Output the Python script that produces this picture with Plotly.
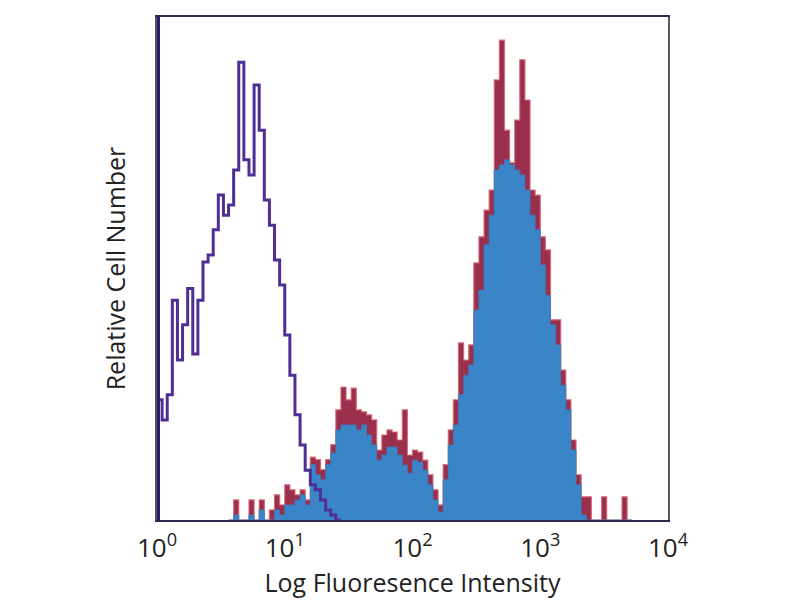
import numpy as np
import plotly.graph_objects as go

# Histogram channels: log10 bins of width 0.04 decade starting at 10^0
bin_width = 0.04

# Isotype control (purple outline), bins 0..35
iso_counts = [23.9, 19.9, 24.9, 43.7, 31.8, 38.8, 46.0, 33.0, 43.7, 51.3,
              52.7, 57.7, 64.6, 60.6, 62.6, 69.6, 91.0, 71.6, 68.6, 86.5,
              77.5, 63.6, 58.6, 51.7, 46.7, 36.8, 28.8, 20.9, 14.9, 9.9,
              7.0, 6.0, 4.0, 2.0, 1.0, 0.0]
iso_offscale = 100  # pile-up in the first channel

# Stained samples, bins 14..92
stain_start_bin = 14
red_counts = [0, 4, 0, 0, 4, 0, 4, 0, 2, 5,
              3, 7, 6, 5, 6, 4, 12.5, 12, 10, 12,
              15, 21.9, 26.4, 23.9, 26.2, 21.9, 21.5, 20.9, 19.9, 13.9,
              16.9, 17.9, 17.5, 15.9, 21.9, 12.9, 13.9, 13.5, 11.9, 9,
              6, 3, 11, 17.9, 23.9, 35.2, 31.8, 34.8, 51.1, 56.3,
              61.6, 65.6, 87.5, 95.4, 77.5, 71.0, 79.5, 91.5, 83.5, 65.6,
              64.6, 56.3, 53.7, 39.8, 39.8, 29.8, 23.9, 15.9, 9, 4.6,
              4.6, 0, 0, 4.6, 0, 0, 0, 4.6, 0]
blue_counts = [0, 1, 0, 0, 1, 0, 2, 0, 0, 2,
               1, 3, 3, 4, 5, 3, 11, 9, 8, 11,
               13.3, 17.9, 18.9, 18.9, 18.9, 17.9, 18.9, 16.9, 14.9, 11.9,
               12.9, 14.5, 14.5, 12.9, 10.9, 9.3, 11.9, 11.5, 9.9, 7,
               4, 1.6, 8, 14.9, 18.9, 24.9, 28.8, 30.8, 41.7, 45.7,
               54.7, 60.6, 69.6, 70.6, 71.6, 70.6, 69.6, 68.6, 65.6, 60.6,
               57.7, 50.7, 44.7, 38.8, 34.8, 26.8, 21.9, 13.9, 7, 1,
               0, 0, 0, 0, 0, 0, 0, 0, 0]

tick_vals = [1, 10, 100, 1000, 10000]
tick_text = ["10<sup>0</sup>", "10<sup>1</sup>", "10<sup>2</sup>", "10<sup>3</sup>", "10<sup>4</sup>"]


def step_xy(start_bin, counts):
    edges = 10 ** (bin_width * (start_bin + np.arange(len(counts) + 1)))
    ys = list(counts) + [0]
    return edges, ys


fig = go.Figure()

rx, ry = step_xy(stain_start_bin, red_counts)
fig.add_trace(go.Scatter(x=rx, y=ry, mode="lines", line_shape="hv",
                         fill="tozeroy", fillcolor="#992f4c",
                         line=dict(color="rgba(215,100,115,0.9)", width=1.2),
                         hoverinfo="skip", showlegend=False))

bx, by = step_xy(stain_start_bin, blue_counts)
fig.add_trace(go.Scatter(x=bx, y=by, mode="lines", line_shape="hv",
                         fill="tozeroy", fillcolor="#3a85c8",
                         line=dict(color="#3a7cc0", width=0.8),
                         hoverinfo="skip", showlegend=False))

ix, iy = step_xy(0, iso_counts)
fig.add_trace(go.Scatter(x=ix, y=iy, mode="lines", line_shape="hv",
                         line=dict(color="#4f2f96", width=3),
                         hoverinfo="skip", showlegend=False))
fig.add_trace(go.Scatter(x=[tick_vals[0], tick_vals[0]], y=[0, iso_offscale],
                         mode="lines", line=dict(color="#2c1f6a", width=6),
                         hoverinfo="skip", showlegend=False))

font_family = "Open Sans, Lato, sans-serif"
fig.update_layout(
    width=800, height=600,
    margin=dict(l=149, r=140, t=9, b=88),
    paper_bgcolor="white", plot_bgcolor="white",
    font=dict(family=font_family, color="#222222"),
    xaxis=dict(type="log", range=[0, 4], tickvals=tick_vals, ticktext=tick_text,
               ticks="", showgrid=False, zeroline=False, automargin=False,
               showline=True, linecolor="#2a2a55", linewidth=2, mirror=True,
               tickfont=dict(size=26, color="#222222"), ticklabelstandoff=4,
               title=dict(text="Log Fluoresence Intensity",
                          font=dict(size=25, color="#222222"), standoff=0)),
    yaxis=dict(range=[0, 100], showticklabels=False, ticks="", showgrid=False,
               zeroline=False, showline=True, linecolor="#555566", linewidth=2,
               mirror=True, automargin=False,
               title=dict(text="Relative Cell Number",
                          font=dict(size=25, color="#222222"), standoff=22)),
)

fig.write_html("out.html")
